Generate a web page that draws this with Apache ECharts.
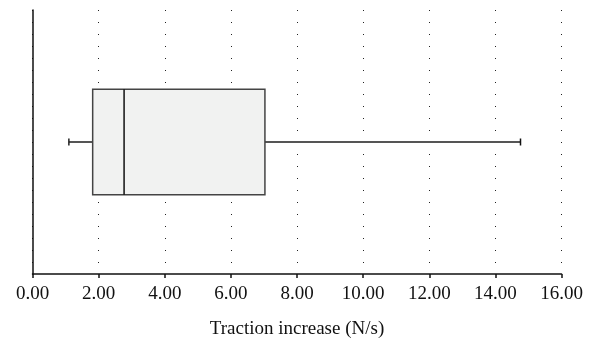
<!DOCTYPE html>
<html>
<head>
<meta charset="utf-8">
<script src="https://cdn.jsdelivr.net/npm/echarts@6/dist/echarts.min.js"></script>
<style>
html, body { margin: 0; padding: 0; background: #fff; }
#box { width: 592px; height: 341px; }
</style>
</head>
<body>
<div id="box"></div>
<script>
var categories = ['Traction'];
// min, q1, median, q3, max
var boxStats = [[1.10, 1.82, 2.77, 7.03, 14.76]];
var xTicks = [0, 2, 4, 6, 8, 10, 12, 14, 16];

var chart = echarts.init(document.getElementById('box'));

function renderBox(params, api) {
  var lo = api.value(1), q1 = api.value(2), med = api.value(3), q3 = api.value(4), hi = api.value(5);
  var cat = api.value(0);
  var pLo = api.coord([lo, cat]);
  var pQ1 = api.coord([q1, cat]);
  var pMed = api.coord([med, cat]);
  var pQ3 = api.coord([q3, cat]);
  var pHi = api.coord([hi, cat]);
  var h = api.size([0, 1])[1] * 0.4;
  var y = pMed[1];
  var cap = 3.5;
  return {
    type: 'group',
    children: [
      { type: 'line', shape: { x1: pLo[0], y1: y, x2: pQ1[0], y2: y }, style: { stroke: '#555', lineWidth: 2 } },
      { type: 'line', shape: { x1: pQ3[0], y1: y, x2: pHi[0], y2: y }, style: { stroke: '#555', lineWidth: 2 } },
      { type: 'line', shape: { x1: pLo[0], y1: y - cap, x2: pLo[0], y2: y + cap }, style: { stroke: '#222', lineWidth: 1.5 } },
      { type: 'line', shape: { x1: pHi[0], y1: y - cap, x2: pHi[0], y2: y + cap }, style: { stroke: '#111', lineWidth: 1.5 } },
      { type: 'rect', shape: { x: pQ1[0], y: y - h / 2, width: pQ3[0] - pQ1[0], height: h },
        style: { fill: '#f1f2f1', stroke: '#444', lineWidth: 1.5 } },
      { type: 'line', shape: { x1: pMed[0], y1: y - h / 2, x2: pMed[0], y2: y + h / 2 }, style: { stroke: '#111', lineWidth: 1.5 } }
    ]
  };
}

var option = {
  animation: false,
  grid: { left: 32.5, right: 30.5, top: 10, bottom: 67, outerBoundsMode: 'none', containLabel: false },
  xAxis: {
    type: 'value',
    min: xTicks[0],
    max: xTicks[xTicks.length - 1],
    interval: 2,
    name: 'Traction increase (N/s)',
    nameLocation: 'middle',
    nameGap: 46,
    nameTextStyle: { fontFamily: 'Liberation Serif', fontSize: 19, color: '#111' },
    axisLine: { show: true, lineStyle: { color: '#111', width: 1.5 } },
    axisTick: { show: true, length: 4, lineStyle: { color: '#111', width: 1.5 } },
    axisLabel: {
      fontFamily: 'Liberation Serif', fontSize: 19, color: '#111', margin: 11,
      formatter: function (v) { return v.toFixed(2); }
    },
    splitLine: { show: true, lineStyle: { color: '#222', width: 1, type: [1, 11] } }
  },
  yAxis: {
    type: 'category',
    data: categories,
    axisLine: { show: true, lineStyle: { color: '#111', width: 1.5 } },
    axisTick: { show: false },
    axisLabel: { show: false },
    splitLine: { show: false }
  },
  series: [{
    type: 'custom',
    renderItem: renderBox,
    encode: { x: [1, 2, 3, 4, 5], y: 0 },
    data: boxStats.map(function (s, i) { return [i].concat(s); })
  }]
};

chart.setOption(option);
</script>
</body>
</html>
